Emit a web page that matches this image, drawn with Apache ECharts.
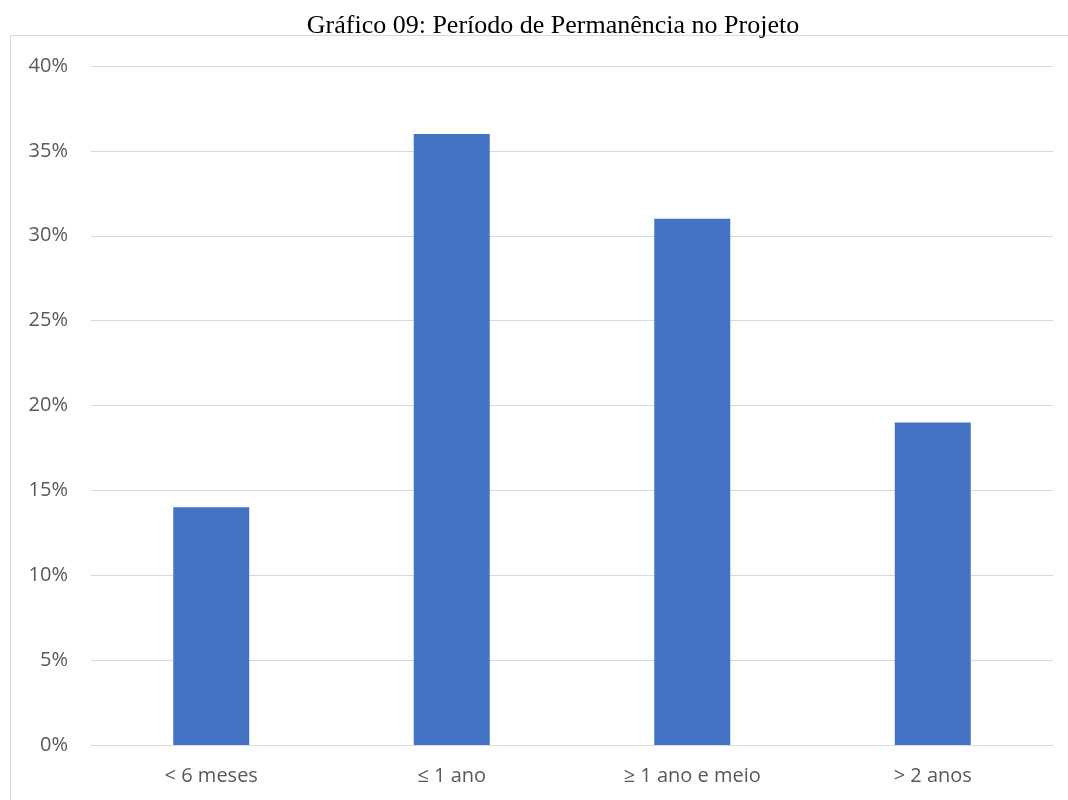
<!DOCTYPE html>
<html>
<head>
<meta charset="utf-8">
<script src="https://cdn.jsdelivr.net/npm/echarts@6/dist/echarts.min.js"></script>
<style>
  html, body { margin: 0; padding: 0; background: #fff; }
  #chart-container { width: 1068px; height: 800px; }
</style>
</head>
<body>
<div id="chart-container"></div>
<script>
var dom = document.getElementById("chart-container");
var myChart = echarts.init(dom, null, { renderer: "canvas" });

var chart_title = "Gráfico 09: Período de Permanência no Projeto";
var categories = ["< 6 meses", "≤ 1 ano", "≥ 1 ano e meio", "> 2 anos"];
var values = [14, 36, 31, 19];

var option = {
  backgroundColor: "#ffffff",
  animation: false,
  title: {
    text: chart_title,
    left: 548,
    textAlign: "center",
    top: 8,
    textStyle: {
      fontFamily: "Liberation Serif",
      fontWeight: "normal",
      fontSize: 26,
      color: "#000000",
    },
  },
  // chart area border
  graphic: [
    {
      type: "rect",
      shape: { x: 10.5, y: 35.5, width: 1070, height: 780 },
      style: { fill: "none", stroke: "#d9d9d9", lineWidth: 1 },
      silent: true,
    },
  ],
  grid: {
    left: 91,
    right: 15,
    top: 66,
    bottom: 55,
  },
  xAxis: {
    type: "category",
    data: categories,
    axisLine: { lineStyle: { color: "#d9d9d9", width: 1 } },
    axisTick: { show: false },
    axisLabel: {
      color: "#595959",
      fontFamily: "Open Sans",
      fontSize: 20,
      margin: 21,
    },
  },
  yAxis: {
    type: "value",
    min: 0,
    max: 40,
    interval: 5,
    axisLine: { show: false },
    axisTick: { show: false },
    splitLine: { lineStyle: { color: "#d9d9d9", width: 1 } },
    axisLabel: {
      color: "#595959",
      fontFamily: "Open Sans",
      fontSize: 20,
      margin: 23,
      formatter: "{value}%",
    },
  },
  series: [
    {
      type: "bar",
      data: values,
      barWidth: "31.6%",
      itemStyle: { color: "#4472c4" },
    },
  ],
};

myChart.setOption(option);
</script>
</body>
</html>
